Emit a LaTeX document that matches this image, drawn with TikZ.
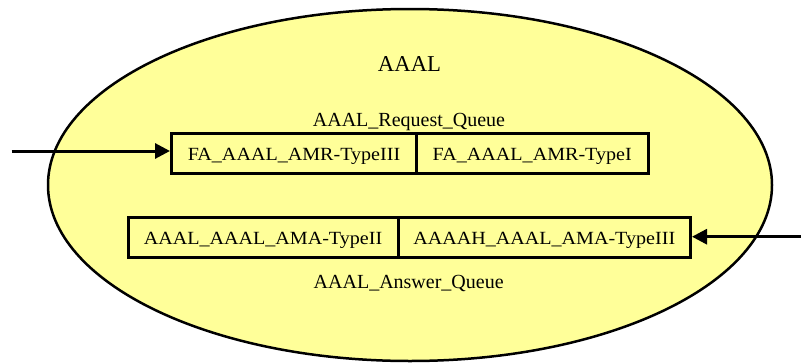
\documentclass[tikz,border=0pt]{standalone}
\usepackage{fontspec}
\setmainfont{Liberation Serif}
\newfontfamily\queuefont[FakeStretch=1.08]{Liberation Serif}
\usetikzlibrary{arrows.meta}
\definecolor{agentfill}{HTML}{FFFF99}
\tikzset{
  msgbox/.style={draw, line width=3pt, fill=agentfill, inner sep=0pt,
    minimum height=40pt, text height=18pt, text depth=3pt,
    font=\queuefont\fontsize{18.6}{20}\selectfont},
  qlabel/.style={anchor=base, inner sep=0pt, font=\fontsize{20}{22}\selectfont},
  flow/.style={line width=3pt, -{Triangle[length=15pt,width=15pt]}}
}
\begin{document}
\begin{tikzpicture}[x=1pt,y=-1pt]
\useasboundingbox (0,0) rectangle (801,362);
% agent body
\draw[line width=2.5pt, fill=agentfill] (410,185) ellipse [x radius=362, y radius=176];
\node[qlabel, font=\fontsize{22.7}{24}\selectfont] (title) at (409.5,71.7) {AAAL};
% request queue
\node[qlabel] (reqlabel) at (409,126) {AAAL\_Request\_Queue};
\node[msgbox, minimum width=245pt] (r1) at (294,153.3) {FA\_AAAL\_AMR-TypeIII};
\node[msgbox, minimum width=231.5pt] (r2) at (532.25,153.3) {FA\_AAAL\_AMR-TypeI};
% answer queue
\node[msgbox, minimum width=270pt] (a1) at (263,237) {AAAL\_AAAL\_AMA-TypeII};
\node[msgbox, minimum width=292.5pt] (a2) at (544.25,237) {AAAAH\_AAAL\_AMA-TypeIII};
\node[qlabel] (anslabel) at (408.7,288.3) {AAAL\_Answer\_Queue};
% incoming and outgoing messages
\coordinate (inL) at (11.7,151);
\coordinate (inR) at (801,236.7);
\draw[flow] (inL) -- (inL -| r1.west);
\draw[flow] (inR) -- (inR -| a2.east);
\end{tikzpicture}
\end{document}
